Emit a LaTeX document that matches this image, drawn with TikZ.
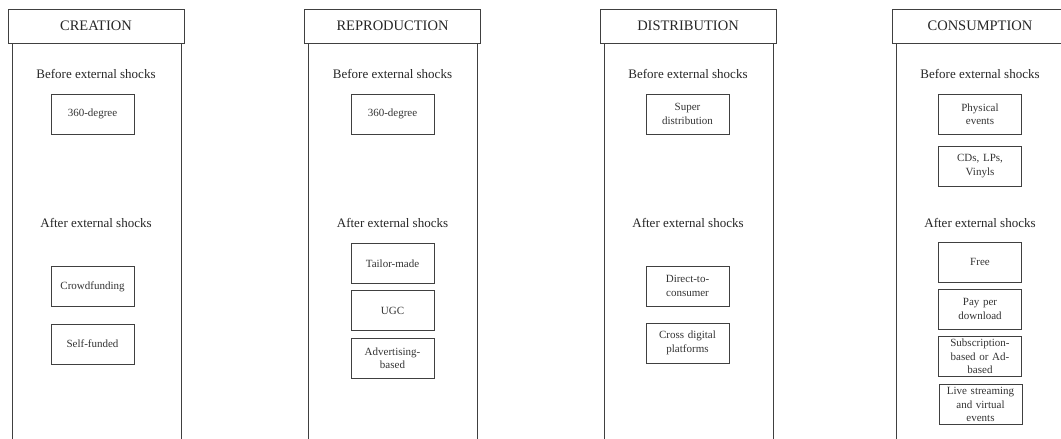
\documentclass[tikz,border=0pt]{standalone}
\usepackage{fontspec}
\setmainfont{Liberation Serif}
\usetikzlibrary{positioning}
\tikzstyle{colline}=[draw=black!75,line width=0.9pt]
\tikzstyle{stage}=[rectangle,draw=black!75,fill=white,line width=0.9pt,minimum width=176pt,minimum height=34pt,inner sep=0,font=\fontsize{14.5}{16}\selectfont,text=black!85]
\tikzstyle{phase}=[font=\fontsize{13}{15}\selectfont,text=black!85]
\tikzstyle{model}=[rectangle,draw=black!75,line width=0.9pt,minimum width=83pt,minimum height=40pt,inner sep=1pt,text width=80pt,align=center,font=\fontsize{11}{13.3}\selectfont,text=black!80]

\begin{document}
\begin{tikzpicture}[x=1pt,y=-1pt]
\useasboundingbox (0,0) rectangle (1061,439);
\clip (0,0) rectangle (1061,439);

\foreach \c/\name/\lbl in {96/cre/CREATION,392.5/rep/REPRODUCTION,688/dis/DISTRIBUTION,980/con/CONSUMPTION}{
\draw[colline] (\c-84,43)--(\c-84,445) (\c+85,43)--(\c+85,445);
\node[stage] (\name) at (\c,26) {\lbl};
\node[phase] (\name-before) at (\c,74) {Before external shocks};
\node[phase] (\name-after) at (\c,223) {After external shocks};
}

% creation
\node[model] (cre-360) at (92.5,114) {360-degree};
\node[model] (cre-crowd) at (92.5,286.5) {Crowdfunding};
\node[model] (cre-self) at (92.5,344) {Self-funded};

% reproduction
\node[model] (rep-360) at (392.5,114) {360-degree};
\node[model] (rep-tailor) at (392.5,263.5) {Tailor-made};
\node[model] (rep-ugc) at (392.5,310.5) {UGC};
\node[model] (rep-adv) at (392.5,358) {Advertising-\\based};

% distribution
\node[model] (dis-super) at (687.5,114) {Super\\distribution};
\node[model] (dis-direct) at (687.5,286) {Direct-to-\\consumer};
\node[model] (dis-cross) at (687.5,343) {Cross digital\\platforms};

% consumption
\node[model] (con-phys) at (980,114) {Physical\\events};
\node[model] (con-cd) at (980,166) {CDs, LPs,\\Vinyls};
\node[model] (con-free) at (980,262) {Free};
\node[model] (con-pay) at (980,309) {Pay per\\download};
\node[model] (con-sub) at (980,356.5) {Subscription-\\based or Ad-\\based};
\node[model] (con-live) at (980.5,404.5) {Live streaming\\and virtual\\events};

\end{tikzpicture}
\end{document}
